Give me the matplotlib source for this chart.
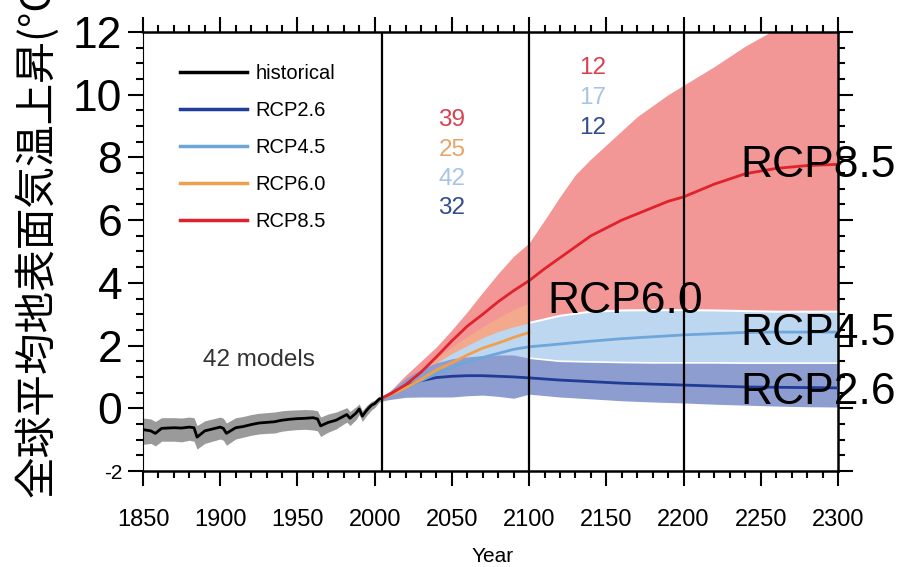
import numpy as np
import matplotlib.pyplot as plt
from matplotlib.ticker import MultipleLocator

plt.rcParams['font.family'] = ['Liberation Sans', 'DejaVu Sans']

# historical ensemble (mean and 5-95% spread)
hist_years = [1850, 1855, 1858, 1862, 1870, 1875, 1880, 1883, 1885, 1890, 1895, 1900,
              1902, 1904, 1910, 1915, 1920, 1925, 1930, 1935, 1940, 1945, 1950, 1955,
              1960, 1963, 1965, 1970, 1975, 1980, 1982, 1984, 1988, 1990, 1992, 1995,
              1998, 2000, 2003, 2005]
hist_mean = [-0.68, -0.72, -0.80, -0.64, -0.62, -0.63, -0.60, -0.62, -0.92, -0.72, -0.66, -0.60,
             -0.64, -0.80, -0.62, -0.58, -0.52, -0.47, -0.45, -0.43, -0.38, -0.35, -0.33, -0.32,
             -0.30, -0.34, -0.56, -0.45, -0.38, -0.25, -0.20, -0.32, -0.15, -0.02, -0.25, -0.05,
             0.10, 0.15, 0.30, 0.33]
hist_hi = [-0.31, -0.34, -0.42, -0.30, -0.30, -0.31, -0.28, -0.30, -0.55, -0.40, -0.34, -0.28,
           -0.32, -0.47, -0.30, -0.26, -0.20, -0.16, -0.14, -0.12, -0.08, -0.06, -0.05, -0.04,
           -0.05, -0.08, -0.28, -0.18, -0.12, -0.02, 0.02, -0.10, 0.05, 0.14, -0.08, 0.10,
           0.22, 0.26, 0.38, 0.40]
hist_lo = [-1.15, -1.12, -1.20, -1.05, -1.05, -1.07, -1.02, -1.05, -1.30, -1.12, -1.05, -0.98,
           -1.02, -1.18, -0.98, -0.92, -0.86, -0.82, -0.80, -0.79, -0.73, -0.70, -0.68, -0.67,
           -0.69, -0.72, -0.90, -0.76, -0.66, -0.50, -0.44, -0.55, -0.36, -0.20, -0.42, -0.22,
           -0.05, 0.02, 0.20, 0.24]

# RCP8.5
r85_years = [2005, 2010, 2020, 2030, 2040, 2050, 2060, 2070, 2080, 2090, 2100, 2110, 2120,
             2130, 2140, 2150, 2160, 2170, 2180, 2190, 2200, 2220, 2240, 2260, 2280, 2300]
r85_mean = [0.33, 0.45, 0.75, 1.15, 1.64, 2.15, 2.62, 3.00, 3.40, 3.75, 4.07, 4.45, 4.80,
            5.15, 5.50, 5.75, 6.00, 6.20, 6.40, 6.60, 6.74, 7.15, 7.48, 7.65, 7.74, 7.78]
r85_hi = [0.40, 0.55, 1.05, 1.50, 1.96, 2.50, 3.08, 3.70, 4.30, 4.85, 5.27, 6.00, 6.75,
          7.45, 7.95, 8.40, 8.85, 9.30, 9.65, 10.00, 10.30, 10.90, 11.55, 12.10, 12.50, 12.80]
r85_lo = [0.22, 0.30, 0.50, 0.75, 1.00, 1.30, 1.64, 1.90, 2.18, 2.40, 2.60, 2.75, 2.85,
          2.90, 2.95, 2.95, 2.95, 2.95, 2.95, 2.95, 2.95, 2.95, 2.95, 2.95, 2.95, 2.95]

# RCP6.0 (to 2100)
r60_years = [2005, 2010, 2020, 2030, 2040, 2050, 2060, 2070, 2080, 2090, 2100]
r60_mean = [0.33, 0.42, 0.65, 0.92, 1.22, 1.45, 1.70, 1.92, 2.08, 2.26, 2.42]
r60_hi = [0.38, 0.50, 0.85, 1.20, 1.60, 1.95, 2.30, 2.60, 2.90, 3.15, 3.35]
r60_lo = [0.25, 0.32, 0.50, 0.70, 0.90, 1.10, 1.30, 1.45, 1.60, 1.70, 1.80]

# RCP4.5 and RCP2.6
rcp_years = [2005, 2010, 2020, 2030, 2040, 2050, 2060, 2070, 2080, 2090, 2100, 2120, 2140,
             2160, 2180, 2200, 2220, 2240, 2260, 2280, 2300]
r45_mean = [0.33, 0.42, 0.65, 0.88, 1.10, 1.30, 1.48, 1.62, 1.75, 1.88, 1.96, 2.05, 2.14,
            2.22, 2.28, 2.34, 2.38, 2.42, 2.43, 2.43, 2.43]
r45_hi = [0.38, 0.50, 0.82, 1.15, 1.45, 1.75, 2.00, 2.25, 2.45, 2.60, 2.72, 2.95, 3.08,
          3.12, 3.13, 3.13, 3.12, 3.10, 3.08, 3.08, 3.08]
r45_lo = [0.25, 0.30, 0.45, 0.60, 0.75, 0.90, 1.00, 1.10, 1.20, 1.30, 1.40, 1.42, 1.42,
          1.40, 1.38, 1.38, 1.36, 1.34, 1.32, 1.30, 1.30]
r26_mean = [0.33, 0.45, 0.70, 0.88, 0.98, 1.02, 1.04, 1.04, 1.02, 1.00, 0.97, 0.90, 0.85,
            0.80, 0.77, 0.74, 0.71, 0.68, 0.67, 0.66, 0.65]
r26_hi = [0.38, 0.55, 0.95, 1.25, 1.45, 1.58, 1.64, 1.68, 1.70, 1.70, 1.60, 1.50, 1.48,
          1.46, 1.45, 1.45, 1.45, 1.44, 1.44, 1.44, 1.44]
r26_lo = [0.25, 0.28, 0.35, 0.36, 0.36, 0.36, 0.40, 0.42, 0.38, 0.32, 0.45, 0.36, 0.30,
          0.24, 0.20, 0.17, 0.13, 0.10, 0.07, 0.05, 0.04]

# model counts per period
counts_2100 = ['39', '25', '42', '32']
counts_2300 = ['12', '17', '12']

c_hist = 'black'
c26, c45, c60, c85 = '#1f3c96', '#6ea6da', '#f0a04c', '#e0222c'
f26, f45, f60, f85 = '#8e9dd0', '#bdd7f1', '#f3a98c', '#f29696'
n85, n60, n45, n26 = '#d9414f', '#e8a56a', '#a8c4e4', '#334d8c'

fig = plt.figure(figsize=(9.08, 5.67), dpi=100)
ax = fig.add_axes([0.1575, 0.1693, 0.7654, 0.7743])

ax.fill_between(r85_years, r85_lo, r85_hi, color=f85, lw=0, zorder=1)
ax.fill_between(r60_years, r60_lo, r60_hi, color=f60, lw=0, zorder=1.1)
ax.fill_between(rcp_years, r45_lo, r45_hi, color=f45, lw=0, zorder=1.2)
ax.fill_between(rcp_years, r26_lo, r26_hi, color=f26, lw=0, zorder=1.3)
ax.plot(rcp_years[10:], r45_hi[10:], color='white', lw=1.5, zorder=1.25)
ax.plot(rcp_years[10:], r26_hi[10:], color='white', lw=1.2, zorder=1.35)
ax.fill_between(hist_years, hist_lo, hist_hi, color='#9a9a9a', lw=0, zorder=1.4)

ax.plot(hist_years, hist_mean, color=c_hist, lw=2, label='historical', zorder=3)
ax.plot(rcp_years, r26_mean, color=c26, lw=2, label='RCP2.6', zorder=3)
ax.plot(rcp_years, r45_mean, color=c45, lw=2, label='RCP4.5', zorder=3)
ax.plot(r60_years, r60_mean, color=c60, lw=2, label='RCP6.0', zorder=3)
ax.plot(r85_years, r85_mean, color=c85, lw=2, label='RCP8.5', zorder=3)

for yr in [2005, 2100, 2200]:
    ax.axvline(yr, color='black', lw=1.6, zorder=4)

ax.set_xlim(1850, 2300)
ax.set_ylim(-2, 12)
ax.xaxis.set_major_locator(MultipleLocator(50))
ax.xaxis.set_minor_locator(MultipleLocator(10))
ax.yaxis.set_minor_locator(MultipleLocator(0.5))
yt = [-2, 0, 2, 4, 6, 8, 10, 12]
ax.set_yticks(yt, [str(v) for v in yt])
for lab, v in zip(ax.get_yticklabels(), yt):
    lab.set_fontsize(15 if v == -2 else 32)
ax.tick_params(axis='both', which='both', direction='out', top=True, right=True, width=1.5)
ax.tick_params(axis='both', which='major', length=11)
ax.tick_params(axis='both', which='minor', length=5)
ax.tick_params(axis='x', labelsize=17, pad=16)
ax.tick_params(axis='y', pad=4)
for sp in ax.spines.values():
    sp.set_linewidth(1.8)
ax.spines['left'].set_linewidth(0.8)

leg = ax.legend(loc='upper left', bbox_to_anchor=(0.053, 0.928), frameon=False,
                fontsize=14.5, handlelength=3.35, handletextpad=0.4, labelspacing=0.9,
                borderpad=0, borderaxespad=0)
for ln in leg.get_lines():
    ln.set_linewidth(2.5)

ax.text(1925, 1.54, '42 models', fontsize=17.5, color='#333333', ha='center', va='center')
for s, col, y in zip(counts_2100, [n85, n60, n45, n26], [9.2, 8.25, 7.3, 6.4]):
    ax.text(2050, y, s, fontsize=17.5, color=col, ha='center', va='center')
for s, col, y in zip(counts_2300, [n85, n45, n26], [10.85, 9.9, 8.95]):
    ax.text(2141, y, s, fontsize=17.5, color=col, ha='center', va='center')

big = dict(fontsize=32, color='black', ha='left', va='center', zorder=6)
ax.text(2237, 7.73, 'RCP8.5', **big)
ax.text(2112, 3.39, 'RCP6.0', **big)
ax.text(2237, 2.40, 'RCP4.5', **big)
ax.text(2237, 0.49, 'RCP2.6', **big)

fig.text(493 / 908, 1 - 556 / 567, 'Year', fontsize=15, ha='center', va='center')
fig.text(37 / 908, 1 - 497 / 567, '全球平均地表面気温上昇(°C)', fontsize=30, rotation=90,
         ha='center', va='bottom', family=['Noto Sans CJK JP', 'DejaVu Sans'])

fig.savefig('out.png', dpi=100)
